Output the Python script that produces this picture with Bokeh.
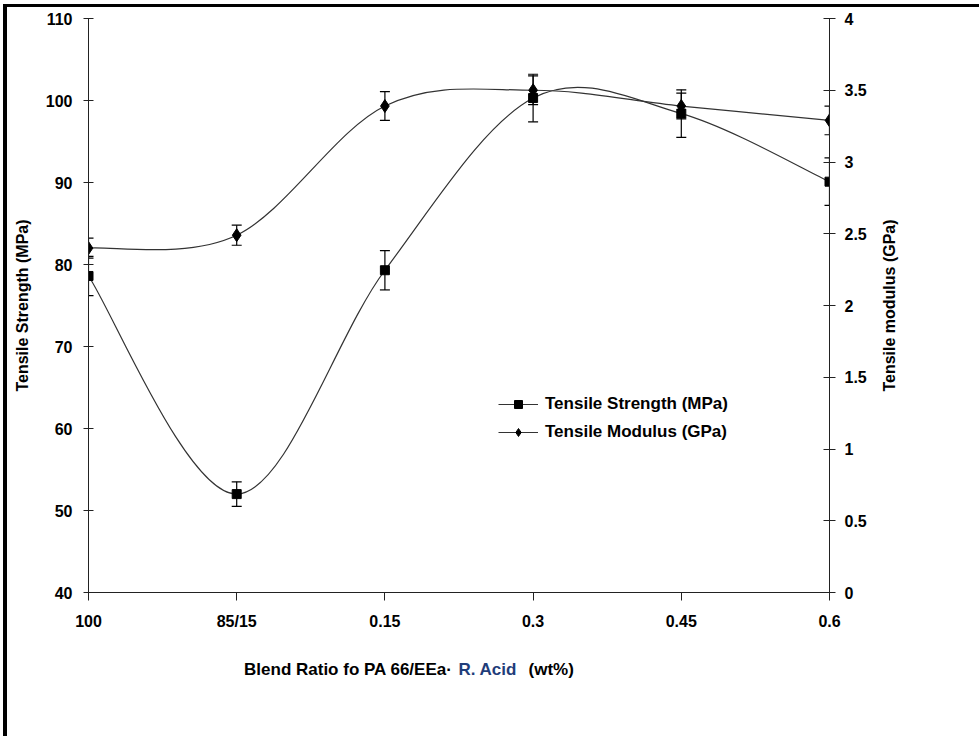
import math
from bokeh.plotting import figure
from bokeh.layouts import column, row
from bokeh.models import (Range1d, LinearAxis, FixedTicker, Whisker, TeeHead, ColumnDataSource,
                          Legend, LegendItem, Label, Spacer)
from bokeh.embed import file_html
from bokeh.resources import INLINE

# ---------------- data ----------------
categories = ["100", "85/15", "0.15", "0.3", "0.45", "0.6"]
strength = [78.6, 52.0, 79.3, 100.3, 98.4, 90.1]
strength_err = [2.4, 1.5, 2.4, 2.9, 2.9, 2.9]
modulus = [2.40, 2.49, 3.39, 3.50, 3.39, 3.29]
modulus_err = [0.07, 0.07, 0.10, 0.10, 0.09, 0.10]
left_ticks = [40, 50, 60, 70, 80, 90, 100, 110]
right_ticks = [0, 0.5, 1, 1.5, 2, 2.5, 3, 3.5, 4]
right_tick_labels = ["0", "0.5", "1", "1.5", "2", "2.5", "3", "3.5", "4"]

# ---------------- layout constants (page pixels) ----------------
PAGE_W, PAGE_H = 979, 736
GAP_L, GAP_T = 3, 4          # white gap before the page frame
BORDER_L, BORDER_T = 4, 3    # thickness of the left / top frame lines
OX, OY = GAP_L + BORDER_L, GAP_T + BORDER_T   # where the figure canvas starts
W, H = PAGE_W - OX, PAGE_H - OY
FL, FR, FT, FB = 88, 829, 18, 592        # frame edges in page px
XMIN, XMAX = 0, len(categories) - 1
YMIN, YMAX = 40, 110
Y2MIN, Y2MAX = 0, 4
FONT = "Liberation Sans"
LINE = "#333333"


def px_x(px):
    return XMIN + (px - FL) / (FR - FL) * (XMAX - XMIN)


def px_y(py):
    return YMIN + (FB - py) / (FB - FT) * (YMAX - YMIN)


def smooth(xs, ys):
    n = len(xs)
    out = dict(x0=[], y0=[], x1=[], y1=[], cx0=[], cy0=[], cx1=[], cy1=[])
    for i in range(n - 1):
        ip = max(i - 1, 0)
        inx = min(i + 2, n - 1)
        out["x0"].append(xs[i]); out["y0"].append(ys[i])
        out["x1"].append(xs[i + 1]); out["y1"].append(ys[i + 1])
        out["cx0"].append(xs[i] + (xs[i + 1] - xs[ip]) / 6)
        out["cy0"].append(ys[i] + (ys[i + 1] - ys[ip]) / 6)
        out["cx1"].append(xs[i + 1] - (xs[inx] - xs[i]) / 6)
        out["cy1"].append(ys[i + 1] - (ys[inx] - ys[i]) / 6)
    return out


xpos = list(range(len(categories)))

p = figure(width=W, height=H, x_range=Range1d(XMIN, XMAX), y_range=Range1d(YMIN, YMAX),
           output_backend="svg", toolbar_location=None,
           min_border_left=FL - OX, min_border_right=PAGE_W - FR,
           min_border_top=FT - OY, min_border_bottom=PAGE_H - FB)
p.extra_y_ranges = {"mod": Range1d(Y2MIN, Y2MAX)}
p.outline_line_color = None
p.xgrid.visible = False
p.ygrid.visible = False
p.background_fill_color = "white"
p.border_fill_color = "white"

# x axis
xa = p.xaxis[0]
xa.ticker = FixedTicker(ticks=xpos)
xa.major_label_overrides = {i: c for i, c in zip(xpos, categories)}
xa.major_tick_in = 0
xa.major_tick_out = 8
xa.minor_tick_line_color = None
xa.major_label_standoff = 12

# left y axis
ya = p.yaxis[0]
ya.ticker = FixedTicker(ticks=left_ticks)
ya.major_tick_in = 5
ya.major_tick_out = 5
ya.minor_tick_line_color = None
ya.major_label_standoff = 11
ya.axis_label = "Tensile Strength (MPa)"
ya.axis_label_standoff = 12

# right y axis
ra = LinearAxis(y_range_name="mod", ticker=FixedTicker(ticks=right_ticks),
                major_label_overrides={t: s for t, s in zip(right_ticks, right_tick_labels)})
ra.major_tick_in = 6
ra.major_tick_out = 6
ra.minor_tick_line_color = None
ra.major_label_standoff = 9
p.add_layout(ra, "right")

for ax in (xa, ya, ra):
    ax.axis_line_color = "#222222"
    ax.major_tick_line_color = "#222222"
    ax.major_label_text_font = FONT
    ax.major_label_text_font_style = "bold"
    ax.major_label_text_font_size = "16px"
    ax.major_label_text_color = "black"
    ax.axis_label_text_font = FONT
    ax.axis_label_text_font_style = "bold"
    ax.axis_label_text_font_size = "16px"
    ax.axis_label_text_color = "black"

# smoothed curves
s_src = ColumnDataSource(smooth(xpos, strength))
m_src = ColumnDataSource(smooth(xpos, modulus))
s_curve = p.bezier(x0="x0", y0="y0", x1="x1", y1="y1", cx0="cx0", cy0="cy0", cx1="cx1", cy1="cy1",
                   source=s_src, line_color=LINE, line_width=1.2)
m_curve = p.bezier(x0="x0", y0="y0", x1="x1", y1="y1", cx0="cx0", cy0="cy0", cx1="cx1", cy1="cy1",
                   source=m_src, line_color=LINE, line_width=1.2, y_range_name="mod")

# error bars
se = ColumnDataSource(dict(x=xpos, lo=[v - e for v, e in zip(strength, strength_err)],
                           hi=[v + e for v, e in zip(strength, strength_err)]))
me = ColumnDataSource(dict(x=xpos, lo=[v - e for v, e in zip(modulus, modulus_err)],
                           hi=[v + e for v, e in zip(modulus, modulus_err)]))
for src, rng in ((se, "default"), (me, "mod")):
    w = Whisker(base="x", lower="lo", upper="hi", source=src, y_range_name=rng,
                line_color="black", line_width=1.2,
                upper_head=TeeHead(size=10, line_color="black", line_width=1.2),
                lower_head=TeeHead(size=10, line_color="black", line_width=1.2))
    p.add_layout(w)

# markers
sq = p.scatter(xpos, strength, marker="square", size=9, color="black")
di = p.scatter(xpos, modulus, marker="diamond", size=13, color="black", y_range_name="mod")

# legend
legend = Legend(items=[LegendItem(label="Tensile Strength (MPa)", renderers=[s_curve, sq]),
                       LegendItem(label="Tensile Modulus (GPa)", renderers=[m_curve, di])],
                location=(410, 150), padding=0, margin=0, spacing=8,
                glyph_width=40, glyph_height=20, label_height=20, label_standoff=7,
                border_line_color=None, background_fill_alpha=0,
                label_text_font=FONT, label_text_font_style="bold", label_text_font_size="17px",
                label_text_color="black")
p.add_layout(legend)

# right axis title (in the right side panel so it is not clipped)
p.add_layout(Label(x=px_x(889), y=px_y(305), text="Tensile modulus (GPa)", angle=math.pi / 2,
                   text_align="center", text_baseline="middle", text_font=FONT,
                   text_font_style="bold", text_font_size="16px", text_color="black"), "right")

# x axis title (three pieces, middle one blue)
ty = px_y(669)
p.add_layout(Label(x=px_x(452), y=ty, text="Blend Ratio fo PA 66/EEa·", text_align="right",
                   text_baseline="middle", text_font=FONT, text_font_style="bold",
                   text_font_size="17px", text_color="black"), "below")
p.add_layout(Label(x=px_x(458), y=ty, text="R. Acid", text_align="left",
                   text_baseline="middle", text_font=FONT, text_font_style="bold",
                   text_font_size="17px", text_color="#1F3D7A"), "below")
p.add_layout(Label(x=px_x(528), y=ty, text="(wt%)", text_align="left",
                   text_baseline="middle", text_font=FONT, text_font_style="bold",
                   text_font_size="17px", text_color="black"), "below")

# page frame: black lines at the left and top of the picture
top_gap = Spacer(width=PAGE_W, height=GAP_T)
top_line = row(Spacer(width=GAP_L, height=BORDER_T),
               Spacer(width=PAGE_W - GAP_L, height=BORDER_T, styles={"background-color": "black"}))
left_gap = Spacer(width=GAP_L, height=H)
left_line = Spacer(width=BORDER_L, height=H, styles={"background-color": "black"})
page = column(top_gap, top_line, row(left_gap, left_line, p), spacing=0)

open("out.html", "w").write(file_html(page, INLINE))
